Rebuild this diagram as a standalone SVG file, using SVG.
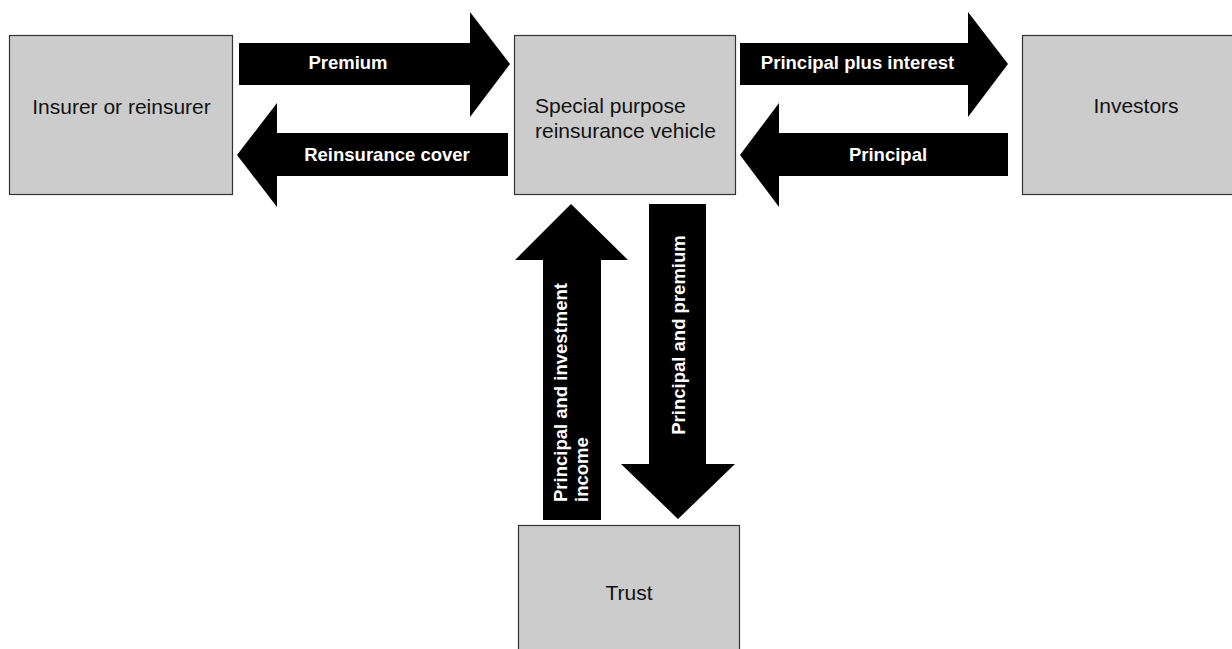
<svg xmlns="http://www.w3.org/2000/svg" width="1232" height="649" viewBox="0 0 1232 649">
<style>
.box{fill:#cccccc;stroke:#333333;stroke-width:1.2}
.lbl{font-family:"Liberation Sans",Arial,sans-serif;font-size:21px;fill:#111111}
.arr{fill:#000000}
.al{font-family:"Liberation Sans",Arial,sans-serif;font-size:18.5px;font-weight:bold;fill:#ffffff}
</style>
<rect width="1232" height="649" fill="#ffffff"/>
<g id="insurer">
<rect class="box" x="9.5" y="35.5" width="223" height="159"/>
<text class="lbl" x="121.5" y="114" text-anchor="middle">Insurer or reinsurer</text>
</g>
<g id="spv">
<rect class="box" x="514.5" y="35.5" width="221" height="159"/>
<text class="lbl" x="535" y="113">Special purpose</text>
<text class="lbl" x="535" y="138">reinsurance vehicle</text>
</g>
<g id="investors">
<rect class="box" x="1022.5" y="35.5" width="220" height="159"/>
<text class="lbl" x="1136" y="113" text-anchor="middle">Investors</text>
</g>
<g id="trust">
<rect class="box" x="518.5" y="525.5" width="221" height="140"/>
<text class="lbl" x="629" y="600" text-anchor="middle">Trust</text>
</g>
<g id="connectors">
<g id="premium">
<polygon class="arr" points="239,43 470,43 470,12 510,64 470,117 470,85 239,85"/>
<text class="al" x="348" y="69" text-anchor="middle">Premium</text>
</g>
<g id="reinsurance-cover">
<polygon class="arr" points="508,133 277,133 277,103 237,155 277,207 277,176 508,176"/>
<text class="al" x="387" y="161" text-anchor="middle">Reinsurance cover</text>
</g>
<g id="principal-plus-interest">
<polygon class="arr" points="740,43 968,43 968,12 1008,64 968,117 968,85 740,85"/>
<text class="al" x="857.5" y="69" text-anchor="middle">Principal plus interest</text>
</g>
<g id="principal">
<polygon class="arr" points="1008,133 779,133 779,103 740,155 779,207 779,176 1008,176"/>
<text class="al" x="888" y="161" text-anchor="middle">Principal</text>
</g>
<g id="principal-investment-income">
<polygon class="arr" points="543,520 543,260 515,260 571,204 628,260 601,260 601,520"/>
<text class="al" transform="translate(567,502) rotate(-90)">Principal and investment</text>
<text class="al" transform="translate(588,502) rotate(-90)">income</text>
</g>
<g id="principal-premium">
<polygon class="arr" points="649,204 706,204 706,464 735,464 678,519 621,464 649,464"/>
<text class="al" transform="translate(685,335) rotate(-90)" text-anchor="middle">Principal and premium</text>
</g>
</g>
</svg>
